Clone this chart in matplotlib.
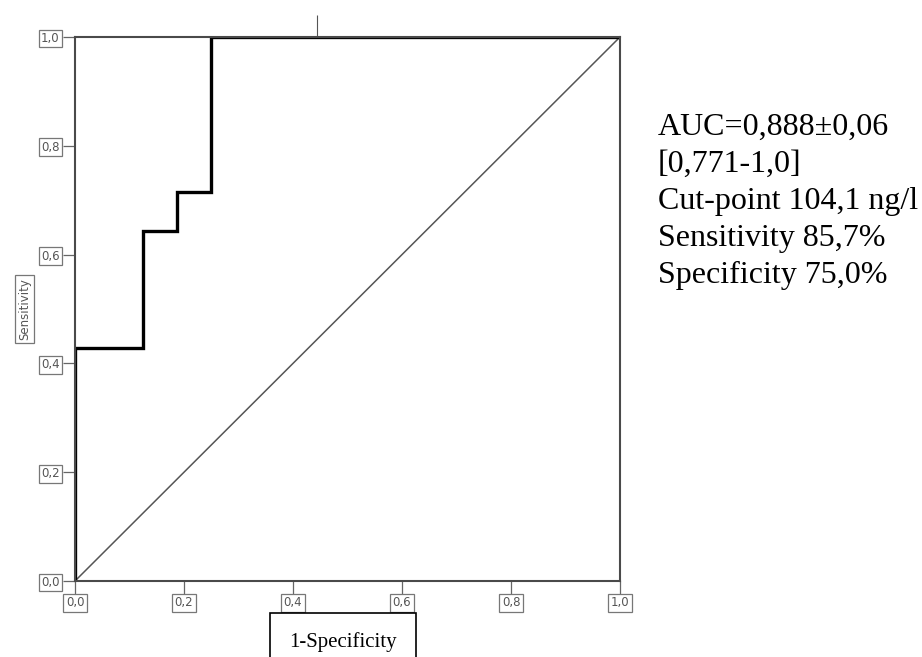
import matplotlib.pyplot as plt

# ROC curve points (1-specificity, sensitivity)
fpr = [0.0, 0.0, 0.125, 0.125, 0.1875, 0.1875, 0.25, 0.25, 1.0]
tpr = [0.0, 0.4286, 0.4286, 0.6429, 0.6429, 0.7143, 0.7143, 1.0, 1.0]
ref_line = [0.0, 1.0]

tick_values = [0.0, 0.2, 0.4, 0.6, 0.8, 1.0]
tick_labels = ["0,0", "0,2", "0,4", "0,6", "0,8", "1,0"]
stray_tick = [0.444]

stats_lines = [
    "AUC=0,888\u00b10,06",
    "[0,771-1,0]",
    "Cut-point 104,1 ng/l",
    "Sensitivity 85,7%",
    "Specificity 75,0%",
]

fig = plt.figure(figsize=(9.22, 6.57), dpi=100)
ax = fig.add_axes([75 / 922, 1 - 581 / 657, 545 / 922, 544 / 657])

ax.plot(ref_line, ref_line, color="#555555", lw=1.1)
ax.plot(fpr, tpr, color="black", lw=2.4, solid_joinstyle="miter")

ax.set_xlim(0, 1)
ax.set_ylim(0, 1)
for s in ax.spines.values():
    s.set_color("#4a4a4a")
    s.set_linewidth(1.5)

box = dict(boxstyle="square,pad=0.2", fc="white", ec="#777777", lw=0.9)
ax.set_xticks(tick_values)
ax.set_xticklabels(tick_labels, bbox=box)
ax.set_yticks(tick_values)
ax.set_yticklabels(tick_labels, bbox=box)
ax.tick_params(length=9, width=0.9, color="#666666", labelsize=8.5,
               labelcolor="#555555", pad=2)

# small tick sticking out of the top frame
top = ax.secondary_xaxis("top")
top.set_xticks(stray_tick)
top.set_xticklabels([""])
top.tick_params(length=16, width=0.8, color="#555555")
top.spines["top"].set_visible(False)

ax.set_ylabel("Sensitivity", fontsize=8.5, color="#555555", labelpad=7,
              bbox=dict(boxstyle="square,pad=0.25", fc="white", ec="#777777", lw=0.9))

fig.text(343 / 922, 1 - 642 / 657, "1-Specificity", family="Liberation Serif",
         fontsize=15, ha="center", va="center",
         bbox=dict(boxstyle="square,pad=0.9", fc="white", ec="black", lw=1.2))

for i, line in enumerate(stats_lines):
    fig.text(658 / 922, 1 - (135 + 37 * i) / 657, line, family="Liberation Serif",
             fontsize=23, ha="left", va="baseline")

fig.savefig("out.png", dpi=100)
